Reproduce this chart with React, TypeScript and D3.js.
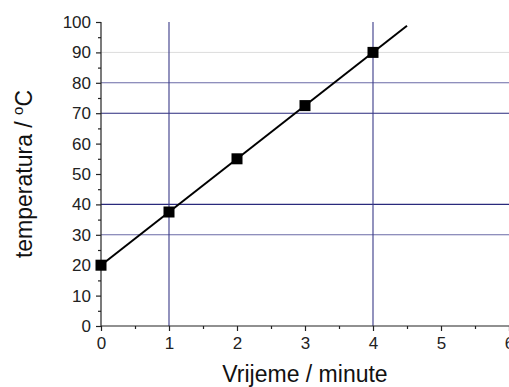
import * as d3 from 'd3'
import { useEffect, useRef } from 'react'

const timeMin = [0, 1, 2, 3, 4]
const tempC = [20, 37.5, 55, 72.5, 90]
const fitRange = [0, 4.5]

const xTicks = [0, 1, 2, 3, 4, 5, 6]
const yTicks = [0, 10, 20, 30, 40, 50, 60, 70, 80, 90, 100]

// reference lines drawn across the plot
const hLines = [30, 40, 70, 80]
const hLineColors = ['#6a6aa6', '#2a2a7c', '#2a2a7c', '#6a6aa6']
const hFaint = [90]
const vLines = [1, 4]

export default function App() {
  const ref = useRef<SVGSVGElement | null>(null)

  useEffect(() => {
    if (!ref.current) return
    const svg = d3.select(ref.current)
    svg.selectAll('*').remove()

    const W = 509
    const H = 387
    const m = { top: 22, right: 0, bottom: 61, left: 101 }
    const iw = W - m.left - m.right
    const ih = H - m.top - m.bottom
    const g = svg.append('g').attr('transform', `translate(${m.left},${m.top})`)

    const x = d3.scaleLinear().domain([0, 6]).range([0, iw])
    const y = d3.scaleLinear().domain([0, 100]).range([ih, 0])

    // least squares fit through the points
    const mx = d3.mean(timeMin) ?? 0
    const my = d3.mean(tempC) ?? 0
    const slope = d3.sum(timeMin, (t, i) => (t - mx) * (tempC[i] - my)) /
      d3.sum(timeMin, t => (t - mx) ** 2)
    const icpt = my - slope * mx

    g.selectAll('.hf').data(hFaint).enter().append('line')
      .attr('x1', 0).attr('x2', iw)
      .attr('y1', d => y(d)).attr('y2', d => y(d))
      .attr('stroke', '#dcdcdc').attr('stroke-width', 1)

    g.selectAll('.hl').data(hLines).enter().append('line')
      .attr('x1', 0).attr('x2', iw)
      .attr('y1', d => y(d)).attr('y2', d => y(d))
      .attr('stroke', (_, i) => hLineColors[i]).attr('stroke-width', 1.1)

    g.selectAll('.vl').data(vLines).enter().append('line')
      .attr('x1', d => x(d)).attr('x2', d => x(d))
      .attr('y1', y(100)).attr('y2', ih)
      .attr('stroke', '#3a3a88').attr('stroke-width', 1.1)

    // axes
    const yAxis = d3.axisLeft(y).tickValues(yTicks).tickSize(5).tickPadding(5).tickFormat(d3.format('d'))
    const yMinor = d3.axisLeft(y).tickValues(d3.range(5, 100, 10)).tickSize(3).tickFormat(() => '')
    const xAxis = d3.axisBottom(x).tickValues(xTicks).tickSize(5).tickPadding(6).tickFormat(d3.format('d'))
    const xMinor = d3.axisBottom(x).tickValues(d3.range(0.5, 6, 1)).tickSize(3).tickFormat(() => '')

    const style = (a: d3.Selection<SVGGElement, unknown, null, undefined>) => {
      a.selectAll('path, line').attr('stroke', '#222').attr('stroke-width', 1.2)
      a.selectAll('text').attr('fill', '#222').attr('font-size', 17)
        .attr('font-family', 'Liberation Sans, Arial, sans-serif')
    }
    const gy = g.append('g').call(yAxis)
    gy.select('.domain').remove()
    style(gy)
    const gym = g.append('g').call(yMinor)
    gym.select('.domain').remove()
    style(gym)
    const gxm = g.append('g').attr('transform', `translate(0,${ih})`).call(xMinor)
    gxm.select('.domain').remove()
    style(gxm)
    const gx = g.append('g').attr('transform', `translate(0,${ih})`).call(xAxis)
    gx.select('.domain').remove()
    style(gx)

    g.append('line').attr('x1', 0).attr('x2', 0).attr('y1', 0).attr('y2', ih)
      .attr('stroke', '#222').attr('stroke-width', 1.2)
    g.append('line').attr('x1', 0).attr('x2', iw).attr('y1', ih).attr('y2', ih)
      .attr('stroke', '#222').attr('stroke-width', 1.2)

    // fit line
    g.append('line')
      .attr('x1', x(fitRange[0])).attr('y1', y(icpt + slope * fitRange[0]))
      .attr('x2', x(fitRange[1])).attr('y2', y(icpt + slope * fitRange[1]))
      .attr('stroke', '#000').attr('stroke-width', 2)

    const s = 11
    g.selectAll('.pt').data(timeMin).enter().append('rect')
      .attr('x', d => x(d) - s / 2)
      .attr('y', (_, i) => y(tempC[i]) - s / 2)
      .attr('width', s).attr('height', s)
      .attr('fill', '#000')

    // titles
    svg.append('text')
      .attr('x', m.left + x(3)).attr('y', 382)
      .attr('text-anchor', 'middle')
      .attr('font-family', 'Liberation Sans, Arial, sans-serif')
      .attr('font-size', 23).attr('fill', '#111')
      .text('Vrijeme / minute')

    const yt = svg.append('text')
    	.attr('transform', `translate(32,${m.top + ih / 2}) rotate(-90)`)
      .attr('text-anchor', 'middle')
      .attr('font-family', 'Liberation Sans, Arial, sans-serif')
      .attr('font-size', 23).attr('fill', '#111')
    yt.append('tspan').text('temperatura / ')
    yt.append('tspan').attr('font-size', 15).attr('dy', -9).text('o')
    yt.append('tspan').attr('dy', 9).text('C')
  }, [])

  return (
    <div style={{ position: 'absolute', left: 0, top: 0, width: 509, height: 387, background: '#fff' }}>
      <svg ref={ref} width={509} height={387} style={{ display: 'block' }} />
    </div>
  )
}
